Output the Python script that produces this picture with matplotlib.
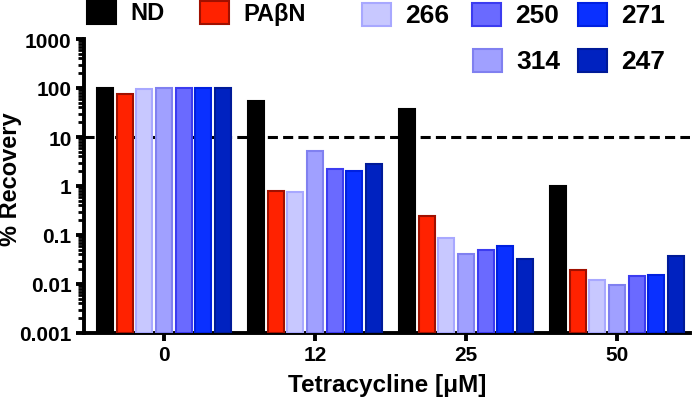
import matplotlib
matplotlib.use("Agg")
import matplotlib.pyplot as plt
import numpy as np
from matplotlib.patches import Rectangle

concentrations = ["0", "12", "25", "50"]
series = ["ND", "PAβN", "266", "314", "250", "271", "247"]
nd     = [100, 55, 37, 1.0]
paben  = [75, 0.79, 0.244, 0.018]
s266   = [95, 0.77, 0.087, 0.011]
s314   = [100, 5.25, 0.040, 0.0086]
s250   = [100, 2.22, 0.048, 0.0137]
s271   = [100, 2.05, 0.059, 0.014]
s247   = [100, 2.8, 0.032, 0.036]
values = [nd, paben, s266, s314, s250, s271, s247]
threshold = 10

faces = ["#000000", "#ff2200", "#c8c8ff", "#a0a0ff", "#6a6aff", "#0a30ff", "#0022c0"]
edges = ["#000000", "#a01000", "#a8a8ff", "#8080f0", "#3c3cf0", "#0020e0", "#001a98"]

plt.rcParams["font.family"] = ["Liberation Sans", "DejaVu Sans"]
plt.rcParams["font.weight"] = "bold"

fig = plt.figure(figsize=(6.95, 4.02), dpi=100)
ax = fig.add_axes([84/695, 1-334/402, (690-84)/695, (334-40)/402])

x = np.arange(len(concentrations))
step = 0.130
width = 0.106
for i, (vals, fc, ec) in enumerate(zip(values, faces, edges)):
    ax.bar(x + (i-3)*step, vals, width=width, bottom=0.001, color=fc, edgecolor=ec,
           linewidth=1.5, zorder=3)

ax.axhline(threshold, color="black", lw=2.2, ls=(0, (3.3, 1.7)), zorder=2)

ax.set_yscale("log")
ax.set_ylim(0.001, 1000)
ax.set_xlim(-0.530, 3.483)
ax.set_yticks([0.001, 0.01, 0.1, 1, 10, 100, 1000])
ax.set_yticklabels(["0.001", "0.01", "0.1", "1", "10", "100", "1000"])
ax.set_xticks(x)
ax.set_xticklabels(concentrations)
for sp in ["top", "right"]:
    ax.spines[sp].set_visible(False)
for sp in ["left", "bottom"]:
    ax.spines[sp].set_linewidth(2.8)
ax.tick_params(axis="both", which="major", width=2.8, length=6, labelsize=15, pad=3)
ax.tick_params(axis="y", which="minor", width=2.0, length=4)
ax.tick_params(axis="x", which="minor", bottom=False)

ax.set_xlabel("Tetracycline [μM]", fontsize=17.5, fontweight="bold")
ax.xaxis.set_label_coords(0.5, -0.135)
ax.set_ylabel("% Recovery", fontsize=17, fontweight="bold")
ax.yaxis.set_label_coords(-0.102, 0.527)

# legend (manual placement, figure pixel coords)
leg_pos = [(87, 2), (200, 2), (362, 4), (473, 50), (472, 4), (578, 4), (578, 50)]
leg_size = [17, 17, 19, 19, 19, 19, 19]
for (px, py), name, fc, ec, fs in zip(leg_pos, series, faces, edges, leg_size):
    r = Rectangle((px/695, 1-(py+23)/402), 29/695, 23/402, transform=fig.transFigure,
                  facecolor=fc, edgecolor=ec, linewidth=1.5)
    fig.add_artist(r)
    fig.text((px+43)/695, 1-(py+12)/402, name, fontsize=fs, fontweight="bold",
             va="center", ha="left")

fig.savefig("out.png", dpi=100)
